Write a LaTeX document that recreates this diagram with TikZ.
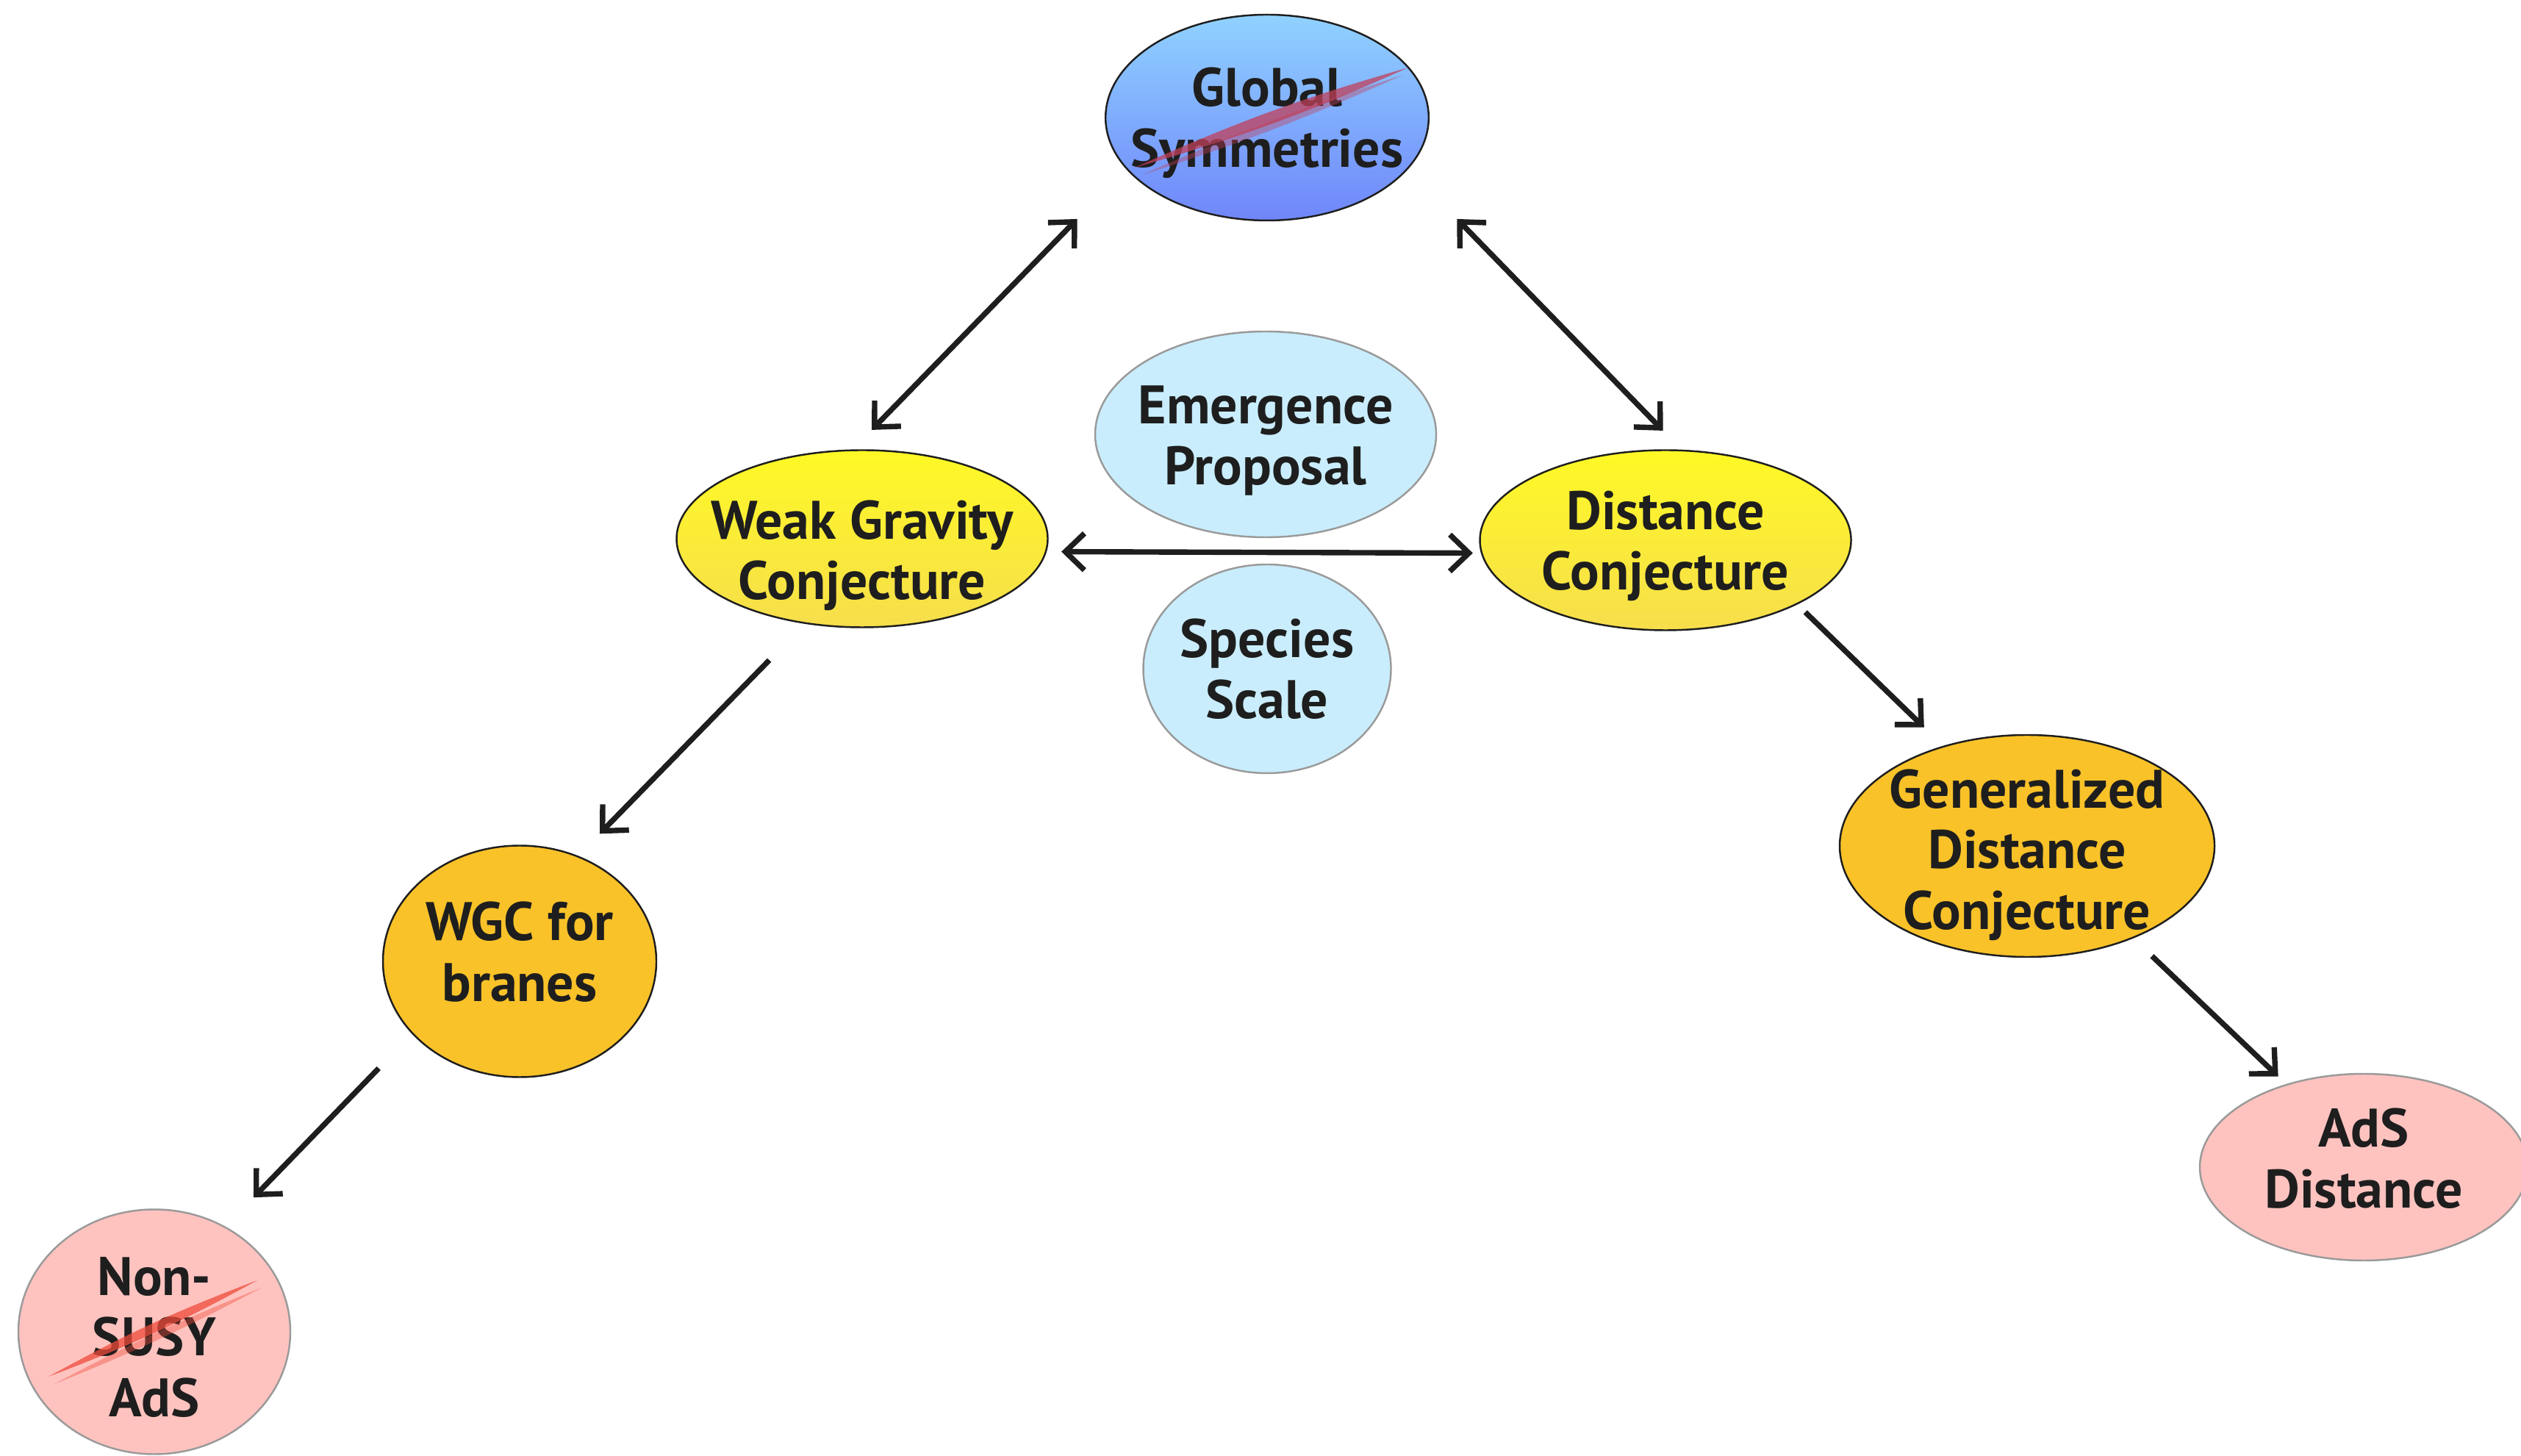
\documentclass[tikz,border=0pt]{standalone}
\usepackage{fontspec}
\setmainfont{PT Sans}
\usetikzlibrary{shapes.geometric,arrows.meta}

\definecolor{ink}{HTML}{1E1E1E}
\definecolor{rim}{HTML}{9A9A9A}
\definecolor{paleblue}{HTML}{C9EDFC}
\definecolor{pink}{HTML}{FFC3BF}
\definecolor{amber}{HTML}{F9C229}
\definecolor{slashdark}{HTML}{C0405A}
\definecolor{slashred}{HTML}{EE4B3B}

% struts to nudge a label up or down inside its ellipse
\newcommand\tall[1]{\rule{0pt}{#1}}
\newcommand\deep[1]{\rule[-#1]{0pt}{#1}}

\begin{document}
\begin{tikzpicture}[
    >={Straight Barb[length=2.6mm,width=5mm]},
    blob/.style={ellipse, draw=ink, line width=0.7pt, inner sep=-0.3cm,
      align=center, text=ink, font=\bfseries\fontsize{21}{23.5}\selectfont},
    soft/.style={blob, draw=rim},
    sky/.style={blob, top color={rgb,255:red,144;green,210;blue,255},
      bottom color={rgb,255:red,111;green,134;blue,250}},
    lemon/.style={blob, top color={rgb,255:red,255;green,249;blue,37},
      bottom color={rgb,255:red,246;green,222;blue,76}},
    strike/.style={opacity=0.75}
  ]
  \useasboundingbox (0,0) rectangle (34.30,19.80);

  \node[sky, minimum width=4.38cm, minimum height=2.80cm] (gs) at (17.24,18.20) {\tall{19pt}Global\\Symmetries};
  \node[soft, fill=paleblue, minimum width=4.64cm, minimum height=2.80cm] (emerg) at (17.22,13.89) {\tall{19.5pt}Emergence\\Proposal};
  \node[soft, fill=paleblue, minimum width=3.37cm, minimum height=2.84cm] (species) at (17.24,10.70) {Species\\Scale};
  \node[lemon, minimum width=5.05cm, minimum height=2.41cm] (wgc) at (11.73,12.47) {\tall{28pt}Weak Gravity\\Conjecture};
  \node[lemon, minimum width=5.05cm, minimum height=2.45cm] (dc) at (22.66,12.45) {\tall{19.5pt}Distance\\Conjecture};
  \node[blob, fill=amber, minimum width=3.72cm, minimum height=3.15cm] (branes) at (7.07,6.72) {WGC for\\branes\deep{7.5pt}};
  \node[blob, fill=amber, minimum width=5.10cm, minimum height=3.02cm] (gdc) at (27.58,8.29) {\tall{22pt}Generalized\\Distance\\Conjecture};
  \node[soft, fill=pink, minimum width=3.70cm, minimum height=3.33cm] (nonsusy) at (2.10,1.68) {\tall{19pt}Non-\\SUSY\\AdS};
  \node[soft, fill=pink, minimum width=4.46cm, minimum height=2.54cm] (ads) at (32.16,3.92) {AdS\\Distance\deep{7pt}};

  % crossed out
  \fill[strike, slashdark] ([shift={(-1.80,-0.68)}]gs.center) to[bend left=4] ([shift={(1.92,0.68)}]gs.center)
    to[bend left=4] ([shift={(-1.80,-0.68)}]gs.center);
  \fill[strike, slashdark, opacity=0.4] ([shift={(-1.70,-0.78)}]gs.center) to[bend left=3] ([shift={(1.85,0.58)}]gs.center)
    to[bend left=3] ([shift={(-1.70,-0.78)}]gs.center);
  \fill[strike, slashred] ([shift={(-1.44,-0.61)}]nonsusy.center) to[bend left=4] ([shift={(1.40,0.70)}]nonsusy.center)
    to[bend left=4] ([shift={(-1.44,-0.61)}]nonsusy.center);
  \fill[strike, slashred, opacity=0.4] ([shift={(-1.36,-0.71)}]nonsusy.center) to[bend left=3] ([shift={(1.46,0.60)}]nonsusy.center)
    to[bend left=3] ([shift={(-1.36,-0.71)}]nonsusy.center);

  \begin{scope}[line width=2.1pt, ink]
    \draw[<->, shorten <=0.95cm, shorten >=0.37cm] (gs.200) to (wgc.96);
    \draw[<->, shorten <=0.95cm, shorten >=0.36cm] (gs.-20) to (dc.80);
    \draw[<->, shorten <=0.20cm, shorten >=0.11cm] (wgc.-4) to (dc.184);
    \draw[->, shorten <=0.69cm, shorten >=0.42cm] (wgc.236) to (branes.61);
    \draw[->, shorten <=0.15cm, shorten >=0.36cm] (dc.-26) to (gdc.130);
    \draw[->, shorten <=0.65cm, shorten >=0.55cm] (branes.214) to (nonsusy.56);
    \draw[->, shorten <=0.35cm, shorten >=0.15cm] (gdc.-41) to (ads.133);
  \end{scope}
\end{tikzpicture}
\end{document}
